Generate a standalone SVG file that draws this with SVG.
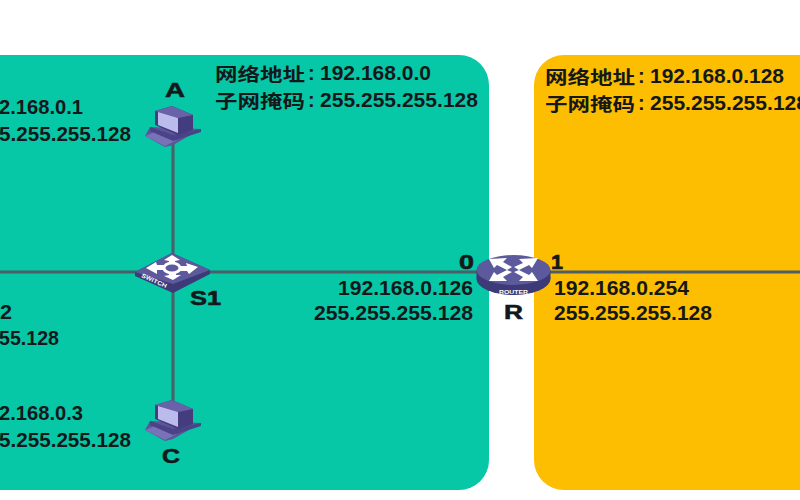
<svg xmlns="http://www.w3.org/2000/svg" width="800" height="500" viewBox="0 0 800 500">
<style>
text{font-family:"Liberation Sans","Noto Sans CJK SC",sans-serif;font-weight:700;fill:#14181a;font-size:20px}
.cn{font-size:18.5px}
.lbl{font-size:21px;stroke:#14181a;stroke-width:.6px}
.tiny{font-size:6px;fill:#fff;stroke:none}
.wire{stroke:#4c5f68;stroke-width:3;fill:none}
.icon{fill:#fff}
</style>
<defs>
<g id="pc">
<path d="M-28 15 L-23 6 L28 8 L0 24 L-8 26 Z" fill="#5d5598"/>
<path d="M-28 15 L-18 11 L4 19 L-8 25 Z" fill="#7a72b8"/>
<path d="M-23 6 L0 14 L28 8 L28 11 L0 20 L-23 10 Z" fill="#4a4388"/>
<path d="M-18 -10 L-1 -15 L20 -6 L20 9 L5 14 L-18 4 Z" fill="#433c7e"/>
<path d="M-18 -10 L-1 -15 L20 -6 L5 -3 Z" fill="#6a62a8"/>
<path d="M-15 -9 L5 -3 L5 12 L-15 4 Z" fill="#bcbcec"/>
</g>
</defs>
<rect width="800" height="500" fill="#fff"/>
<g id="net-left"><rect x="-40" y="55" width="529" height="435" rx="30" fill="#06c7a6"/></g>
<g id="net-right"><rect x="534" y="55" width="320" height="435" rx="30" fill="#fdbd00"/></g>
<g id="connectors">
<line class="wire" x1="0" y1="272" x2="800" y2="272"/>
<line class="wire" x1="173" y1="140" x2="173" y2="405"/>
</g>
<g id="node-a">
<use href="#pc" x="173" y="121"/>
<text x="165" y="97" class="lbl" textLength="20" lengthAdjust="spacingAndGlyphs">A</text>
</g>
<g id="node-c">
<use href="#pc" x="173" y="415"/>
<text x="162" y="463" class="lbl" textLength="18" lengthAdjust="spacingAndGlyphs">C</text>
</g>
<g id="node-s1">
<path d="M135 272 L172 253 L210 270 L210 274 L173 293 L135 276 Z" fill="#3d3a78"/>
<path d="M135 272 L172 253 L210 270 L173 284 Z" fill="#5c5a9c"/>
<ellipse cx="172" cy="268" rx="8" ry="5" fill="none" stroke="#fff" stroke-width="3"/>
<path class="icon" d="M172 255 L180 260 L175 261 L175 264 L169 264 L169 261 L164 260 Z"/>
<path class="icon" d="M198 267 L189 274 L187 271 L180 271 L180 266 L187 266 L186 263 Z"/>
<path class="icon" d="M173 280 L164 276 L169 275 L169 272 L176 272 L176 275 L181 275 Z"/>
<path class="icon" d="M146 268 L156 262 L157 265 L164 265 L164 270 L157 270 L157 274 Z"/>
<text x="141" y="277" transform="rotate(24 141 277)" class="tiny" textLength="27" lengthAdjust="spacingAndGlyphs">SWITCH</text>
<text x="190" y="305" class="lbl" textLength="31" lengthAdjust="spacingAndGlyphs">S1</text>
</g>
<g id="node-r">
<ellipse cx="513.500" cy="279" rx="37" ry="16" fill="#3d3a78"/>
<path d="M476.500 270 L476.500 279 L550.500 279 L550.500 270 Z" fill="#3d3a78"/>
<ellipse cx="513.500" cy="270" rx="37" ry="15" fill="#5c5a9c"/>
<path class="icon" d="M489 259 L507 258 L503 262 L512 267 L507 270 L497 265 L494 268 Z"/>
<path class="icon" d="M538 258 L519 259 L523 263 L514 267 L519 270 L529 265 L532 268 Z"/>
<path class="icon" d="M489 281 L507 281 L503 277 L512 272 L507 270 L497 275 L494 272 Z"/>
<path class="icon" d="M538 281 L519 281 L523 277 L514 272 L519 270 L529 275 L532 272 Z"/>
<text x="499" y="294" class="tiny" textLength="29" lengthAdjust="spacingAndGlyphs">ROUTER</text>
<text x="504" y="319" class="lbl" textLength="19" lengthAdjust="spacingAndGlyphs">R</text>
<text x="459" y="269" class="lbl" textLength="15" lengthAdjust="spacingAndGlyphs">0</text>
<text x="551" y="269" class="lbl" textLength="12" lengthAdjust="spacingAndGlyphs">1</text>
</g>
<g id="labels">
<text x="215" y="81" class="cn" textLength="90" lengthAdjust="spacingAndGlyphs">网络地址</text>
<text x="308" y="80">:</text>
<text x="320" y="80" textLength="111" lengthAdjust="spacingAndGlyphs">192.168.0.0</text>
<text x="215" y="108" class="cn" textLength="90" lengthAdjust="spacingAndGlyphs">子网掩码</text>
<text x="308" y="107">:</text>
<text x="320" y="107" textLength="158" lengthAdjust="spacingAndGlyphs">255.255.255.128</text>
<text x="545" y="84" class="cn" textLength="90" lengthAdjust="spacingAndGlyphs">网络地址</text>
<text x="638" y="83">:</text>
<text x="650" y="83" textLength="134" lengthAdjust="spacingAndGlyphs">192.168.0.128</text>
<text x="545" y="111" class="cn" textLength="90" lengthAdjust="spacingAndGlyphs">子网掩码</text>
<text x="638" y="110">:</text>
<text x="650" y="110" textLength="158" lengthAdjust="spacingAndGlyphs">255.255.255.128</text>
<text x="-1" y="114" textLength="84" lengthAdjust="spacingAndGlyphs">2.168.0.1</text>
<text x="-1" y="141" textLength="132" lengthAdjust="spacingAndGlyphs">5.255.255.128</text>
<text x="0" y="319" textLength="12" lengthAdjust="spacingAndGlyphs">2</text>
<text x="-1" y="345" textLength="60" lengthAdjust="spacingAndGlyphs">55.128</text>
<text x="-1" y="420" textLength="84" lengthAdjust="spacingAndGlyphs">2.168.0.3</text>
<text x="-1" y="447" textLength="132" lengthAdjust="spacingAndGlyphs">5.255.255.128</text>
<text x="338" y="295" textLength="135" lengthAdjust="spacingAndGlyphs">192.168.0.126</text>
<text x="314" y="320" textLength="159" lengthAdjust="spacingAndGlyphs">255.255.255.128</text>
<text x="554" y="295" textLength="135" lengthAdjust="spacingAndGlyphs">192.168.0.254</text>
<text x="554" y="320" textLength="158" lengthAdjust="spacingAndGlyphs">255.255.255.128</text>
</g>
</svg>
